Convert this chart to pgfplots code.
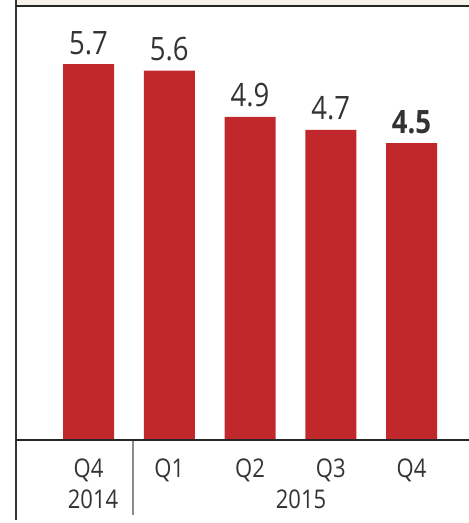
\documentclass[border=0pt]{standalone}
\usepackage{pgfplots}
\pgfplotsset{compat=1.18}
\usepackage{fontspec}
\setmainfont{Open Sans}
\definecolor{barred}{HTML}{C0282C}
\definecolor{txt}{HTML}{333333}
\definecolor{cream}{HTML}{F8F3EA}
\newcommand{\vs}[1]{\scalebox{1}[1.17]{#1}}
\begin{document}
\begin{tikzpicture}
\useasboundingbox (-16pt,-83pt) rectangle (453pt,440pt);
\fill[cream] (0pt,435pt) rectangle (453pt,440pt);
\begin{axis}[
  scale only axis,
  width=453pt, height=434pt,
  xmin=-0.898, xmax=4.712,
  ymin=0, ymax=6.58,
  enlargelimits=false,
  ybar, bar width=51pt,
  axis line style={draw=none},
  ytick=\empty,
  xtick={0,1,2,3,4},
  xticklabels={\vs{Q4},\vs{Q1},\vs{Q2},\vs{Q3},\vs{Q4}},
  major tick length=0pt,
  xticklabel style={font=\fontsize{22}{26}\selectfont, text=txt, anchor=base, inner sep=0pt, yshift=-37pt},
  clip=false,
  point meta=explicit symbolic,
  nodes near coords={\vs{\pgfplotspointmeta}},
  every node near coord/.append style={font=\fontsize{27.5}{32}\selectfont, text=txt, anchor=base, inner sep=0pt, yshift=10pt},
]
\addplot[fill=barred, draw=none] coordinates {
  (0,5.7) [5.7]
  (1,5.6) [5.6]
  (2,4.9) [4.9]
  (3,4.7) [4.7]
  (4,4.5) [\textbf{4.5}]
};
\end{axis}
\def\yr#1{\fontsize{22}{26}\selectfont\vs{#1}}
\node[anchor=base, inner sep=0pt, text=txt] at (77pt,-68pt) {\yr{2014}};
\node[anchor=base, inner sep=0pt, text=txt] at (285pt,-68pt) {\yr{2015}};
\draw[line width=2pt, draw=txt] (0pt,440pt) -- (0pt,-80pt);
\draw[line width=2.2pt, draw=black!85] (0pt,434pt) -- (453pt,434pt);
\draw[line width=2pt, draw=black!85] (0pt,0pt) -- (453pt,0pt);
\draw[line width=1.2pt, draw=black!45] (117pt,-1pt) -- (117pt,-75pt);
\end{tikzpicture}
\end{document}
